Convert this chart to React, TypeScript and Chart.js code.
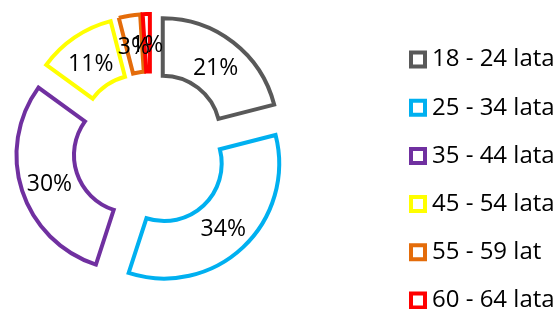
import React, { useEffect, useRef } from "react";
import { Chart, registerables } from "chart.js";

Chart.register(...registerables);

const CATEGORIES = ["18 - 24 lata", "25 - 34 lata", "35 - 44 lata", "45 - 54 lata", "55 - 59 lat", "60 - 64 lata"];
const SHARES = [21, 34, 30, 11, 3, 1];
const COLORS = ["#595959", "#00B0F0", "#7030A0", "#FFFF00", "#E46C0A", "#FF0000"];

const FONT = "'Open Sans', 'DejaVu Sans', sans-serif";
const EXPLODE = 20;
const LEGEND_X = 411;
const LEGEND_TOP = 59.5;
const LEGEND_STEP = 48.2;
const BOX = 14;
const LABEL_DY = 3;

const explodePlugin = {
  id: "explode",
  afterDatasetUpdate(chart: any, args: any) {
    const meta = chart.getDatasetMeta(args.index);
    meta.data.forEach((arc: any) => {
      const mid = (arc.startAngle + arc.endAngle) / 2;
      arc.x += Math.cos(mid) * EXPLODE;
      arc.y += Math.sin(mid) * EXPLODE;
    });
  },
};

const labelPlugin = {
  id: "pctLabels",
  afterDatasetsDraw(chart: any) {
    const ctx = chart.ctx;
    const meta = chart.getDatasetMeta(0);
    const values = chart.data.datasets[0].data;
    ctx.save();
    ctx.font = `23px ${FONT}`;
    ctx.fillStyle = "#000";
    ctx.textAlign = "center";
    ctx.textBaseline = "middle";
    meta.data.forEach((arc: any, i: number) => {
      const p = arc.tooltipPosition(false);
      ctx.fillText(`${values[i]}%`, p.x, p.y + LABEL_DY);
    });
    ctx.restore();
  },
};

const legendPlugin = {
  id: "sideLegend",
  afterDraw(chart: any) {
    const ctx = chart.ctx;
    const ds = chart.data.datasets[0];
    ctx.save();
    ctx.font = `24px ${FONT}`;
    ctx.textBaseline = "middle";
    ctx.textAlign = "left";
    chart.data.labels.forEach((label: string, i: number) => {
      const y = LEGEND_TOP + i * LEGEND_STEP;
      ctx.fillStyle = "#fff";
      ctx.strokeStyle = ds.borderColor[i];
      ctx.lineWidth = 4;
      ctx.beginPath();
      ctx.rect(LEGEND_X, y - BOX / 2, BOX, BOX);
      ctx.fill();
      ctx.stroke();
      ctx.fillStyle = "#000";
      ctx.fillText(label, LEGEND_X + BOX + 7, y);
    });
    ctx.restore();
  },
};

export default function App() {
  const ref = useRef<HTMLCanvasElement | null>(null);
  useEffect(() => {
    if (!ref.current) return;
    const chart = new Chart(ref.current, {
      type: "doughnut",
      data: {
        labels: CATEGORIES,
        datasets: [
          {
            data: SHARES,
            backgroundColor: "#ffffff",
            borderColor: COLORS,
            borderWidth: 4,
            borderJoinStyle: "miter",
          } as any,
        ],
      },
      options: {
        responsive: false,
        animation: false,
        radius: 115,
        cutout: "50%",
        layout: { padding: { left: 0, right: 253, top: 0, bottom: 11 } },
        plugins: {
          legend: { display: false },
          tooltip: { enabled: false },
        },
      } as any,
      plugins: [explodePlugin, labelPlugin, legendPlugin],
    });
    return () => chart.destroy();
  }, []);
  return (
    <div style={{ position: "absolute", left: 0, top: 0, width: 554, height: 309, background: "#fff" }}>
      <canvas ref={ref} width={554} height={309} />
    </div>
  );
}
